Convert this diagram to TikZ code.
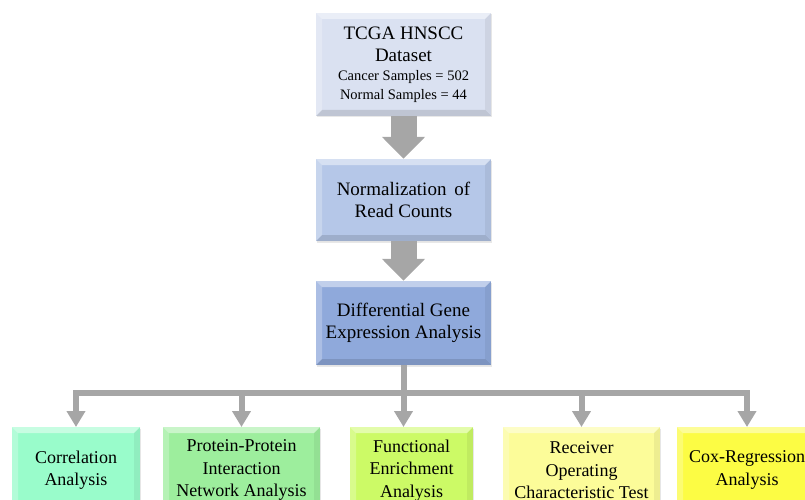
\documentclass[tikz,border=0pt]{standalone}
\usepackage{fontspec}
\setmainfont{Liberation Serif}
\usetikzlibrary{arrows.meta,shadows}

\definecolor{dataclr}{HTML}{DAE1F1}
\definecolor{normclr}{HTML}{B5C7E8}
\definecolor{degclr}{HTML}{8FA9DB}
\definecolor{corrclr}{HTML}{99FCCB}
\definecolor{ppiclr}{HTML}{9DEE9D}
\definecolor{funclr}{HTML}{CCFA66}
\definecolor{rocclr}{HTML}{FCFC99}
\definecolor{coxclr}{HTML}{FCFC44}
\definecolor{arrowgray}{HTML}{A6A6A6}

\tikzset{
  bevel/.style={path picture={
    \fill[white,opacity=0.45] (path picture bounding box.north west) -- (path picture bounding box.north east)
      -- ([xshift=-6pt,yshift=-6pt]path picture bounding box.north east) -- ([xshift=6pt,yshift=-6pt]path picture bounding box.north west) -- cycle;
    \fill[white,opacity=0.25] (path picture bounding box.north west) -- ([xshift=6pt,yshift=-6pt]path picture bounding box.north west)
      -- ([xshift=6pt,yshift=6pt]path picture bounding box.south west) -- (path picture bounding box.south west) -- cycle;
    \fill[black,opacity=0.06] (path picture bounding box.north east) -- ([xshift=-6pt,yshift=-6pt]path picture bounding box.north east)
      -- ([xshift=-6pt,yshift=6pt]path picture bounding box.south east) -- (path picture bounding box.south east) -- cycle;
    \fill[black,opacity=0.12] (path picture bounding box.south west) -- ([xshift=6pt,yshift=6pt]path picture bounding box.south west)
      -- ([xshift=-6pt,yshift=6pt]path picture bounding box.south east) -- (path picture bounding box.south east) -- cycle;
  }},
  box/.style={bevel, inner sep=0pt, align=center, minimum width=175pt,
    drop shadow={opacity=0.18, shadow xshift=1pt, shadow yshift=-1.5pt},
    font=\fontsize{19}{22}\selectfont},
  leaf/.style={box, anchor=north, minimum height=86pt, font=\fontsize{18}{22.5}\selectfont},
  bigarrow/.style={arrowgray, line width=26pt, -{Triangle[width=42pt,length=22pt]}},
  branch/.style={arrowgray, line width=6pt, -{Triangle[width=18pt,length=16pt]}},
}

\begin{document}
\begin{tikzpicture}[x=1pt,y=-1pt]
  \useasboundingbox (0,0) rectangle (805,500);

  % main pipeline
  \node[box, fill=dataclr, minimum height=103pt] (data) at (403.5,64.5)
    {TCGA HNSCC\\Dataset\\[-3pt]{\fontsize{14.5}{17.5}\selectfont Cancer Samples = 502}\\[-3pt]{\fontsize{14.5}{17.5}\selectfont Normal Samples = 44}};
  \node[box, fill=normclr, minimum height=82pt] (norm) at (403.5,200) {Normalization\, of\\Read Counts};
  \node[box, fill=degclr, minimum height=84pt] (deg) at (403.5,323) {Differential Gene\\Expression Analysis};

  \draw[bigarrow] (data.south) -- (norm.north);
  \draw[bigarrow] (norm.south) -- (deg.north);

  % downstream analyses
  \node[leaf, fill=corrclr, minimum width=128pt] (corr) at (76,427) {Correlation\\Analysis};
  \node[leaf, fill=ppiclr, minimum width=157pt] (ppi) at (241.5,427) {Protein-Protein\\Interaction\\Network Analysis};
  \node[leaf, fill=funclr, minimum width=123pt] (fun) at (411.5,427) {Functional\\Enrichment\\Analysis};
  \node[leaf, fill=rocclr, minimum width=157pt] (roc) at (581.5,427) {Receiver\\Operating\\Characteristic Test};
  \node[leaf, fill=coxclr, minimum width=140pt] (cox) at (747,427) {Cox-Regression\\Analysis};

  \coordinate (bus) at (deg.south |- 0,393);
  \draw[arrowgray, line width=6pt] (deg.south) -- (bus);
  \draw[branch] (bus) -| (corr.north);
  \draw[branch] (bus) -| (ppi.north);
  \draw[branch] (bus) -- (bus |- fun.north);
  \draw[branch] (bus) -| (roc.north);
  \draw[branch] (bus) -| (cox.north);
\end{tikzpicture}
\end{document}
